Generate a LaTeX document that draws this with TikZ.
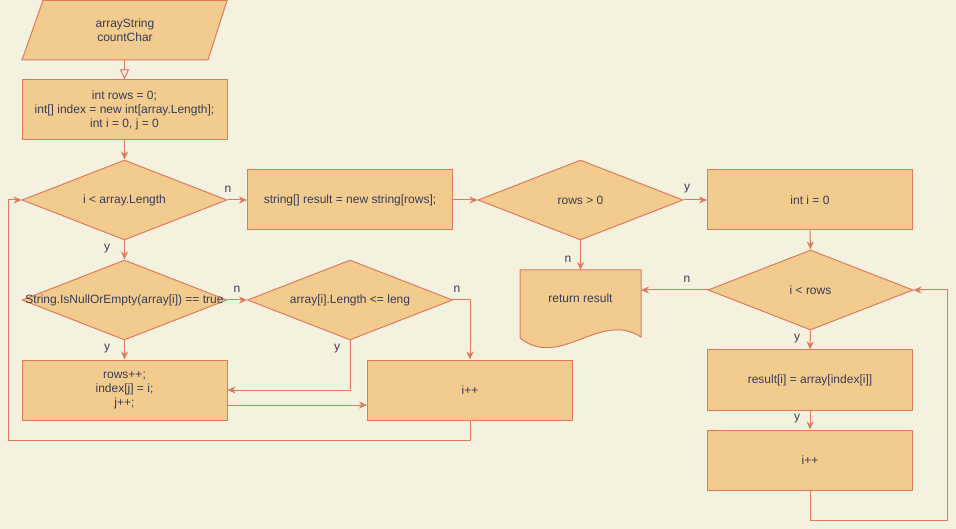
\documentclass[tikz,border=0pt]{standalone}
\usepackage{fontspec}
\setmainfont{Liberation Sans}
\usetikzlibrary{shapes.geometric,arrows.meta,calc}
\definecolor{bgc}{HTML}{F4F1DE}
\definecolor{fillc}{HTML}{F2CC8F}
\definecolor{linec}{HTML}{E07A5F}
\definecolor{textc}{HTML}{393C56}
\newcommand{\zw}[1]{\makebox[0pt]{#1}}
\tikzset{
  box/.style={draw=linec, fill=fillc, line width=1pt, minimum width=205pt, minimum height=60pt, inner sep=0pt, align=center, text=textc, font=\fontsize{12}{14}\selectfont},
  dia/.style={draw=linec, fill=fillc, line width=1pt, diamond, minimum width=205pt, minimum height=80pt, inner sep=0pt, text=textc, font=\fontsize{12}{14}\selectfont},
  txt/.style={inner sep=0pt, align=center, text=textc, font=\fontsize{12}{14}\selectfont},
  lab/.style={inner sep=0pt, text=textc, font=\fontsize{12}{14}\selectfont},
  conn/.style={draw=linec, line width=1pt, -{Stealth[length=8pt,width=7pt,inset=2.5pt]}},
  openconn/.style={draw=linec, line width=1pt, -{Triangle[open,length=10pt,width=9pt,fill=bgc]}}
}
\begin{document}
\begin{tikzpicture}[x=1pt,y=-1pt]
\fill[bgc] (0,0) rectangle (956,529);
\useasboundingbox (0,0) rectangle (956,529);
% input parallelogram
\draw[draw=linec, fill=fillc, line width=1pt] (43,0.5) -- (227,0.5) -- (208,60) -- (22,60) -- cycle;
\node[txt] (in) at (125,30) {arrayString\\countChar};
\coordinate (inb) at (124.5,60);
% left column
\node[box] (b1) at (124.5,110) {int rows = 0;\\int[] index = new int[array.Length];\\int i = 0, j = 0};
\node[dia] (d1) at (124.5,200) {\zw{i < array.Length}};
\node[dia] (d2) at (124.5,300) {\zw{String.IsNullOrEmpty(array[i]) == true}};
\node[dia] (d3) at (350,300) {\zw{array[i].Length <= leng}};
\node[box] (b7) at (124.5,390) {rows++;\\index[j] = i;\\j++;};
\node[box] (b6) at (470,390) {i++};
\node[box] (b2) at (350,200) {string[] result = new string[rows];};
\node[dia] (d4) at (580.5,200) {\zw{rows > 0}};
\node[box] (b3) at (810,200) {int i = 0};
\node[dia] (d5) at (810.5,290) {\zw{i < rows}};
\node[box] (b4) at (810,380) {result[i] = array[index[i]]};
\node[box] (b5) at (810,460) {i++};
% document shape
\draw[draw=linec, fill=fillc, line width=1pt] (520,270) -- (641,270) -- (641,337) .. controls (600,310) and (560,370) .. (520,338) -- cycle;
\node[txt] (ret) at (580.5,298) {return result};
\coordinate (rettop) at (580.5,270);
\coordinate (retright) at (641,290);
% connectors
\draw[openconn] (inb) -- (b1.north);
\draw[conn] (b1.south) -- (d1.north);
\draw[conn] (d1.east) -- (b2.west);
\draw[conn] (d1.south) -- (d2.north);
\draw[conn] (d2.east) -- (d3.west);
\draw[conn] (d2.south) -- (b7.north);
\draw[conn] (d3.east) -| (b6.north);
\draw[conn] (d3.south) |- (b7.east);
\draw[conn] ([yshift=-15pt]b7.east) -- ([yshift=-15pt]b7.east -| b6.west);
\coordinate (lp1) at (470,440);
\coordinate (lp2) at (8,440);
\coordinate (lp3) at (8,200);
\draw[conn] (b6.south) -- (lp1) -- (lp2) -- (lp3) -- (d1.west);
\draw[conn] (b2.east) -- (d4.west);
\draw[conn] (d4.east) -- (b3.west);
\draw[conn] (d4.south) -- (rettop);
\draw[conn] (b3.south) -- (d5.north);
\draw[conn] (d5.west) -- (retright);
\draw[conn] (d5.south) -- (b4.north);
\draw[conn] (b4.south) -- (b5.north);
\coordinate (rp1) at (810,520);
\coordinate (rp2) at (947,520);
\coordinate (rp3) at (947,290);
\draw[conn] (b5.south) -- (rp1) -- (rp2) -- (rp3) -- (d5.east);
% labels
\node[lab] (l1) at (228,189) {n};
\node[lab] (l2) at (107,249) {y};
\node[lab] (l3) at (237,289) {n};
\node[lab] (l4) at (457,289) {n};
\node[lab] (l5) at (107,349) {y};
\node[lab] (l6) at (337,349) {y};
\node[lab] (l7) at (687,189) {y};
\node[lab] (l8) at (568,259) {n};
\node[lab] (l9) at (687,279) {n};
\node[lab] (l10) at (797,339) {y};
\node[lab] (l11) at (797,419) {y};
\end{tikzpicture}
\end{document}
